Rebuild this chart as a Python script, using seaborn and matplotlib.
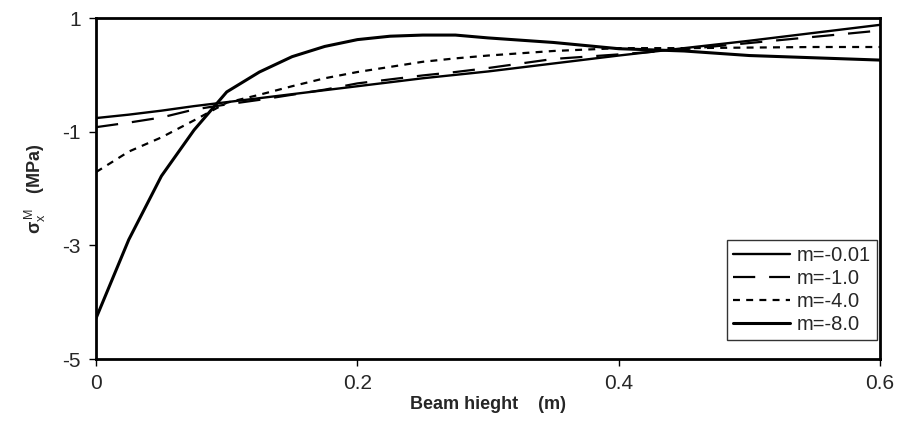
import matplotlib
matplotlib.use("Agg")
import matplotlib.pyplot as plt
import pandas as pd
import seaborn as sns

sns.set_style("white")
plt.rcParams["font.family"] = ["Liberation Sans", "DejaVu Sans"]
plt.rcParams["mathtext.fontset"] = "custom"
plt.rcParams["mathtext.rm"] = "Liberation Sans"
plt.rcParams["mathtext.it"] = "Liberation Sans"
plt.rcParams["mathtext.bf"] = "Liberation Sans:bold"
plt.rcParams["lines.scale_dashes"] = False

# beam height (m)
height = [0, 0.025, 0.05, 0.075, 0.1, 0.125, 0.15, 0.175, 0.2, 0.225,
          0.25, 0.275, 0.3, 0.35, 0.4, 0.45, 0.5, 0.55, 0.6]

# sigma_x^M (MPa) for each m
m_001 = [-0.76, -0.70, -0.63, -0.55, -0.48, -0.41, -0.34, -0.27, -0.20, -0.13,
         -0.06, 0.00, 0.06, 0.20, 0.34, 0.47, 0.60, 0.74, 0.88]
m_1 = [-0.92, -0.84, -0.75, -0.61, -0.52, -0.44, -0.35, -0.26, -0.15, -0.08,
       -0.01, 0.05, 0.12, 0.28, 0.36, 0.45, 0.56, 0.67, 0.78]
m_4 = [-1.71, -1.35, -1.10, -0.80, -0.49, -0.35, -0.20, -0.06, 0.05, 0.14,
       0.23, 0.29, 0.34, 0.42, 0.47, 0.47, 0.48, 0.49, 0.49]
m_8 = [-4.28, -2.90, -1.78, -0.97, -0.30, 0.05, 0.32, 0.50, 0.62, 0.68,
       0.70, 0.70, 0.65, 0.57, 0.46, 0.42, 0.34, 0.30, 0.26]

labels = ["m=-0.01", "m=-1.0", "m=-4.0", "m=-8.0"]
series = [m_001, m_1, m_4, m_8]
styles = ["-", (0, (16, 10)), (0, (5, 4.5)), "-"]
widths = [1.7, 1.6, 1.6, 2.2]

fig, ax = plt.subplots(figsize=(8.98, 4.29), dpi=100)

for lab, vals, ls, lw in zip(labels, series, styles, widths):
    df = pd.DataFrame({"h": height, "s": vals})
    sns.lineplot(data=df, x="h", y="s", ax=ax, color="black",
                 linestyle=ls, linewidth=lw, label=lab)

ax.set_xlim(0, 0.6)
ax.set_ylim(-5, 1)
ax.set_xticks([0, 0.2, 0.4, 0.6])
ax.set_xticklabels(["0", "0.2", "0.4", "0.6"])
ax.set_yticks([1, -1, -3, -5])
ax.set_yticklabels(["1", "-1", "-3", "-5"])
ax.tick_params(axis="both", labelsize=15, direction="out", length=5,
               width=1, color="black", pad=6, bottom=True, left=True)

for sp in ax.spines.values():
    sp.set_visible(True)
    sp.set_color("black")
    sp.set_linewidth(2)

ax.set_xlabel("Beam hieght    (m)", fontsize=13, fontweight="bold", labelpad=2)
ax.set_ylabel(r"σ$_{x}^{\,M}$   (MPa)", fontsize=13, fontweight="bold",
              labelpad=10)

leg = ax.legend(loc="lower right", bbox_to_anchor=(0.996, 0.056),
                borderaxespad=0, fontsize=14.5, frameon=True, fancybox=False,
                edgecolor="black", handlelength=2.8, handletextpad=0.35,
                labelspacing=0.2, borderpad=0.3)
leg.get_frame().set_linewidth(1)

plt.subplots_adjust(left=0.107, right=0.980, top=0.958, bottom=0.163)
plt.savefig("out.png", dpi=100)
